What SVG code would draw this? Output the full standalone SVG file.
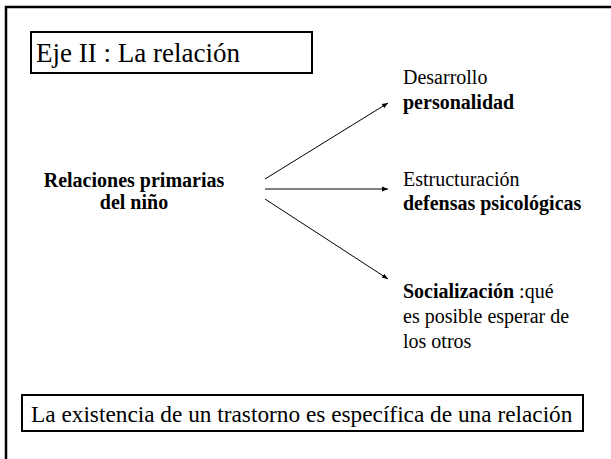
<svg xmlns="http://www.w3.org/2000/svg" width="611" height="459" viewBox="0 0 611 459" font-family="'Liberation Serif', 'Times New Roman', serif">
<style>
.t{font-size:20px;font-family:'Liberation Serif','Times New Roman',serif}
.b{font-weight:bold}
.box{fill:#fff;stroke:#000;stroke-width:2}
.ln{stroke:#000;stroke-width:1;fill:none;marker-end:url(#ah)}
</style>
<defs>
<marker id="ah" viewBox="0 0 10 10" refX="10" refY="5" markerWidth="6" markerHeight="6" markerUnits="userSpaceOnUse" orient="auto">
<path d="M0,1 L10,5 L0,9 z" fill="#000"/>
</marker>
</defs>
<rect x="0" y="0" width="611" height="459" fill="#fff"/>
<rect id="frame" x="6" y="7" width="640" height="480" fill="none" stroke="#000" stroke-width="2.5"/>
<g id="title">
<rect class="box" x="31" y="32" width="281" height="41"/>
<text x="36" y="62" font-size="27" font-family="'Liberation Serif', 'Times New Roman', serif">Eje II : La relación</text>
</g>
<g id="source" font-family="'Liberation Serif', 'Times New Roman', serif">
<text class="t b" x="134" y="187" text-anchor="middle">Relaciones primarias</text>
<text class="t b" x="134" y="209" text-anchor="middle">del niño</text>
</g>
<g id="connectors">
<line class="ln" x1="265" y1="179" x2="388" y2="103"/>
<line class="ln" x1="265" y1="189" x2="388" y2="189"/>
<line class="ln" x1="265" y1="199" x2="388" y2="279"/>
</g>
<g id="n1" font-family="'Liberation Serif', 'Times New Roman', serif">
<text class="t" x="403" y="84">Desarrollo</text>
<text class="t b" x="403" y="109">personalidad</text>
</g>
<g id="n2" font-family="'Liberation Serif', 'Times New Roman', serif">
<text class="t" x="403" y="186">Estructuración</text>
<text class="t b" x="403" y="210">defensas psicológicas</text>
</g>
<g id="n3" font-family="'Liberation Serif', 'Times New Roman', serif">
<text class="t" x="403" y="298"><tspan class="b">Socialización</tspan> :qué</text>
<text class="t" x="403" y="323">es posible esperar de</text>
<text class="t" x="403" y="348">los otros</text>
</g>
<g id="footer">
<rect class="box" x="22" y="395" width="561" height="36"/>
<text x="31" y="422" font-size="23.3" font-family="'Liberation Serif', 'Times New Roman', serif">La existencia de un trastorno es específica de una relación</text>
</g>
</svg>
